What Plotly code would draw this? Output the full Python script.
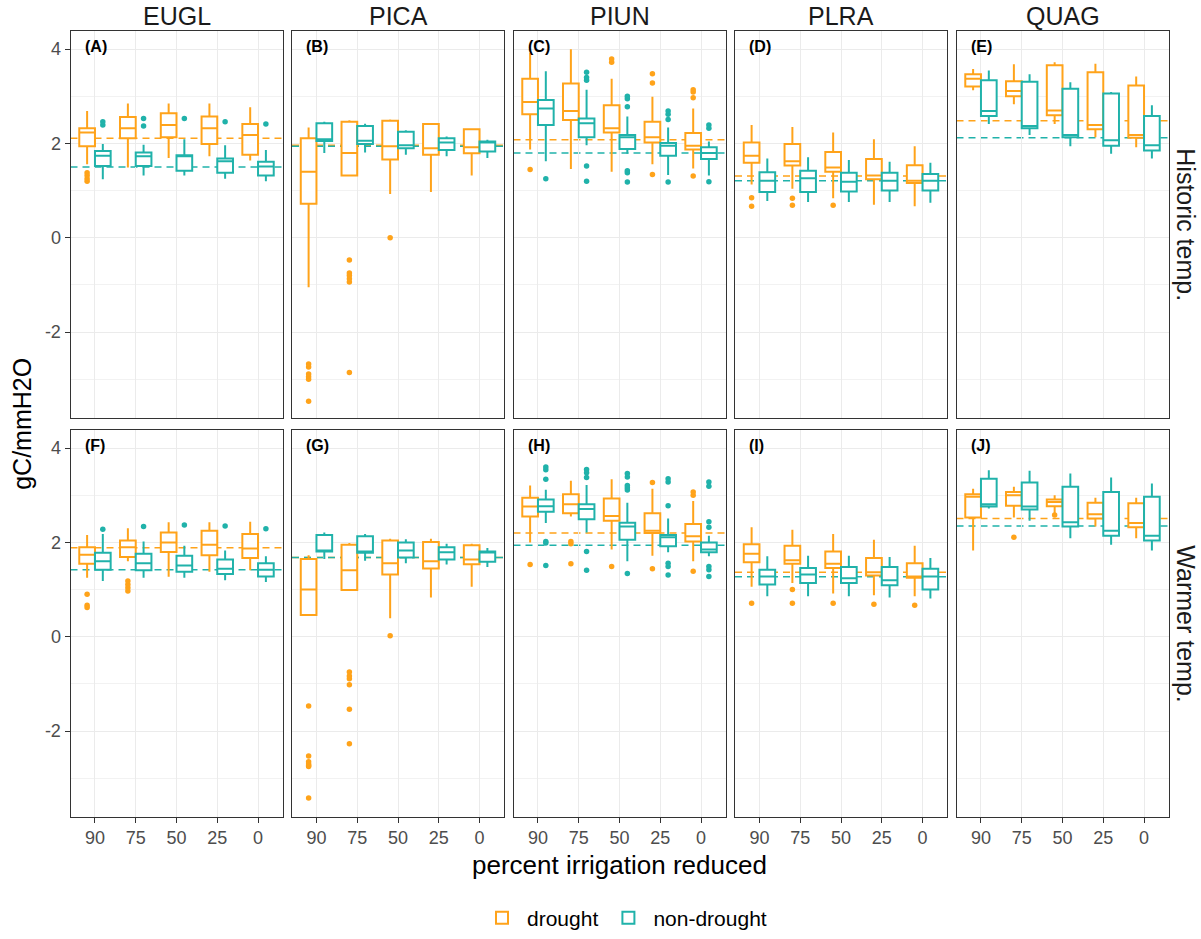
import plotly.graph_objects as go

# ---------------- data ----------------
species = ["EUGL", "PICA", "PIUN", "PLRA", "QUAG"]
temps = ["Historic temp.", "Warmer temp."]
categories = ["90", "75", "50", "25", "0"]
groups = ["drought", "non-drought"]
panel_tags = [["(A)", "(B)", "(C)", "(D)", "(E)"],
              ["(F)", "(G)", "(H)", "(I)", "(J)"]]
y_tickvals = [-2, 0, 2, 4]
y_ticktext = ["-2", "0", "2", "4"]

# Historic temp., drought  (rows = species, columns = categories)
hist_d_low = [[1.56, 1.49, 1.69, 1.73, 1.64], [-1.05, 1.32, 0.93, 0.97, 1.32],
              [1.87, 1.46, 1.40, 1.56, 1.47], [1.13, 1.04, 0.84, 0.70, 0.67],
              [3.13, 2.83, 2.41, 2.13, 1.92]]
hist_d_q1 = [[1.94, 2.11, 2.13, 1.99, 1.76], [0.72, 1.32, 1.66, 1.76, 1.79],
             [2.62, 2.50, 2.23, 2.02, 1.87], [1.59, 1.53, 1.40, 1.24, 1.16],
             [3.21, 3.00, 2.60, 2.30, 2.12]]
hist_d_med = [[2.23, 2.32, 2.39, 2.32, 2.18], [1.40, 1.80, 1.94, 1.90, 1.92],
              [2.88, 2.69, 2.32, 2.13, 1.95], [1.74, 1.62, 1.49, 1.32, 1.21],
              [3.37, 3.11, 2.70, 2.39, 2.18]]
hist_d_q3 = [[2.32, 2.56, 2.64, 2.57, 2.41], [2.11, 2.46, 2.48, 2.41, 2.30],
             [3.37, 3.27, 2.81, 2.46, 2.22], [2.02, 1.99, 1.82, 1.67, 1.54],
             [3.47, 3.32, 3.66, 3.51, 3.23]]
hist_d_high = [[2.69, 2.85, 2.85, 2.85, 2.77], [2.34, 2.49, 2.51, 2.43, 2.30],
               [3.92, 4.00, 3.37, 2.99, 2.74], [2.39, 2.35, 2.23, 2.09, 1.94],
               [3.58, 3.68, 3.72, 3.69, 3.42]]
hist_d_out = [[[1.38, 1.32, 1.25, 1.20], [], [], [], []],
              [[-2.68, -2.74, -2.89, -2.95, -3.00, -3.47],
               [-0.47, -0.75, -0.80, -0.87, -0.94, -2.86], [0.0], [], []],
              [[1.45], [], [3.79, 3.72], [3.48, 3.28, 1.34], [3.14, 3.09, 2.97, 1.31]],
              [[0.85, 0.67], [0.84, 0.69], [0.69], [], []],
              [[], [], [], [], []]]
hist_d_ref = [2.11, 1.96, 2.08, 1.31, 2.48]

# Historic temp., non-drought
hist_n_low = [[1.24, 1.32, 1.32, 1.25, 1.20], [1.80, 1.81, 1.76, 1.73, 1.69],
              [1.62, 1.96, 1.78, 1.33, 1.32], [0.78, 0.76, 0.76, 0.76, 0.74],
              [2.41, 2.18, 1.94, 1.78, 1.68]]
hist_n_q1 = [[1.52, 1.52, 1.42, 1.38, 1.32], [2.05, 1.99, 1.90, 1.86, 1.83],
             [2.39, 2.13, 1.88, 1.74, 1.67], [0.97, 0.97, 0.98, 1.00, 1.00],
             [2.58, 2.32, 2.13, 1.95, 1.85]]
hist_n_med = [[1.74, 1.73, 1.73, 1.62, 1.51], [2.09, 2.06, 1.96, 2.02, 2.02],
              [2.74, 2.43, 2.13, 1.95, 1.80], [1.21, 1.26, 1.19, 1.21, 1.21],
              [2.69, 2.37, 2.18, 2.07, 1.96]]
hist_n_q3 = [[1.84, 1.81, 1.75, 1.68, 1.61], [2.43, 2.37, 2.25, 2.11, 2.04],
             [2.92, 2.53, 2.18, 2.01, 1.92], [1.39, 1.42, 1.38, 1.38, 1.35],
             [3.34, 3.31, 3.16, 3.06, 2.58]]
hist_n_high = [[1.99, 1.97, 2.09, 1.96, 1.86], [2.46, 2.42, 2.28, 2.15, 2.08],
               [3.53, 3.14, 2.57, 2.34, 2.04], [1.68, 1.71, 1.65, 1.61, 1.59],
               [3.55, 3.47, 3.30, 3.09, 2.81]]
hist_n_out = [[[2.46, 2.39], [2.53, 2.37], [2.53], [2.46], [2.41]],
              [[], [], [], [], []],
              [[1.25], [3.51, 3.40, 3.34, 1.52, 1.20], [3.00, 2.95, 2.78, 1.42, 1.38, 1.18],
               [2.69, 2.62, 2.51, 1.18], [2.39, 2.32, 1.19]],
              [[], [], [], [], []],
              [[], [], [], [], []]]
hist_n_ref = [1.50, 1.94, 1.80, 1.21, 2.12]

# Warmer temp., drought
warm_d_low = [[1.25, 1.60, 1.27, 1.38, 1.41], [0.46, 0.99, 0.39, 0.83, 1.06],
              [2.00, 2.55, 1.85, 1.72, 1.60], [1.06, 1.14, 0.92, 0.88, 0.86],
              [1.83, 2.53, 2.62, 2.34, 2.09]]
warm_d_q1 = [[1.55, 1.69, 1.80, 1.73, 1.67], [0.46, 0.99, 1.32, 1.45, 1.54],
             [2.55, 2.62, 2.46, 2.20, 2.02], [1.58, 1.55, 1.46, 1.30, 1.25],
             [2.53, 2.78, 2.77, 2.51, 2.32]]
warm_d_med = [[1.74, 1.90, 2.00, 1.95, 1.87], [1.00, 1.41, 1.56, 1.60, 1.64],
              [2.76, 2.81, 2.56, 2.25, 2.13], [1.76, 1.62, 1.55, 1.37, 1.28],
              [2.97, 3.00, 2.86, 2.60, 2.41]]
warm_d_q3 = [[1.90, 2.04, 2.21, 2.25, 2.18], [1.65, 1.95, 2.04, 2.01, 1.94],
             [2.95, 3.02, 2.93, 2.62, 2.39], [1.96, 1.93, 1.81, 1.67, 1.56],
             [3.02, 3.07, 2.91, 2.84, 2.83]]
warm_d_high = [[2.16, 2.30, 2.43, 2.43, 2.44], [1.73, 1.99, 2.08, 2.08, 1.97],
               [3.21, 3.31, 3.34, 3.14, 2.88], [2.32, 2.27, 2.18, 2.06, 1.93],
               [3.14, 3.18, 3.00, 2.95, 2.95]]
warm_d_out = [[[0.90, 0.67, 0.62], [1.18, 1.11, 1.04, 0.97], [], [], []],
              [[-1.47, -2.53, -2.65, -2.70, -2.73, -2.75, -3.42],
               [-0.75, -0.83, -0.89, -1.02, -1.54, -2.27], [0.02], [], []],
              [[1.53], [2.02, 1.97, 1.55], [1.49], [3.27, 1.44], [3.07, 3.00, 1.39]],
              [[0.71], [1.00, 0.71], [0.71], [0.69], [0.67]],
              [[], [2.11], [2.58], [], []]]
warm_d_ref = [1.89, 1.68, 2.20, 1.37, 2.51]

# Warmer temp., non-drought
warm_n_low = [[1.18, 1.25, 1.25, 1.20, 1.16], [1.65, 1.61, 1.56, 1.53, 1.48],
              [2.41, 2.21, 1.60, 1.79, 1.71], [0.86, 0.86, 0.86, 0.83, 0.81],
              [2.72, 2.46, 2.09, 1.95, 1.83]]
warm_n_q1 = [[1.42, 1.41, 1.38, 1.33, 1.28], [1.81, 1.78, 1.68, 1.64, 1.59],
             [2.65, 2.49, 2.06, 1.92, 1.79], [1.11, 1.14, 1.14, 1.09, 1.00],
             [2.76, 2.70, 2.34, 2.14, 2.04]]
warm_n_med = [[1.60, 1.56, 1.51, 1.44, 1.42], [1.83, 1.81, 1.83, 1.79, 1.79],
              [2.77, 2.71, 2.34, 2.11, 1.85], [1.28, 1.32, 1.24, 1.20, 1.28],
              [2.81, 2.76, 2.43, 2.25, 2.14]]
warm_n_q3 = [[1.78, 1.76, 1.72, 1.64, 1.56], [2.16, 2.13, 2.00, 1.90, 1.81],
             [2.91, 2.81, 2.42, 2.16, 2.00], [1.42, 1.46, 1.48, 1.48, 1.44],
             [3.35, 3.27, 3.18, 3.07, 2.97]]
warm_n_high = [[2.18, 2.02, 1.93, 1.83, 1.71], [2.21, 2.18, 2.07, 1.97, 1.88],
               [3.12, 3.22, 2.84, 2.51, 2.14], [1.71, 1.72, 1.72, 1.69, 1.67],
               [3.53, 3.52, 3.46, 3.38, 3.25]]
warm_n_out = [[[2.28], [2.34], [2.37], [2.35], [2.29]],
              [[], [], [], [], []],
              [[3.60, 3.54, 3.34, 2.02, 1.99, 1.51], [3.55, 3.48, 3.38, 1.81, 1.41],
               [3.46, 3.39, 3.21, 3.16, 3.11, 1.34], [3.35, 3.28, 2.78, 1.56, 1.49, 1.31],
               [3.28, 3.19, 2.44, 2.32, 1.49, 1.42, 1.28]],
              [[], [], [], [], []],
              [[], [], [], [], []]]
warm_n_ref = [1.42, 1.68, 1.94, 1.27, 2.35]

# ---------------- assembly ----------------
series = {
    (0, 0): (hist_d_low, hist_d_q1, hist_d_med, hist_d_q3, hist_d_high, hist_d_out, hist_d_ref),
    (0, 1): (hist_n_low, hist_n_q1, hist_n_med, hist_n_q3, hist_n_high, hist_n_out, hist_n_ref),
    (1, 0): (warm_d_low, warm_d_q1, warm_d_med, warm_d_q3, warm_d_high, warm_d_out, warm_d_ref),
    (1, 1): (warm_n_low, warm_n_q1, warm_n_med, warm_n_q3, warm_n_high, warm_n_out, warm_n_ref),
}
colors = ["#FFA31A", "#20B2AA"]

W, H = 1201, 939
col_left = [70.5, 292.0, 513.5, 735.0, 956.5]
panel_w = 212.0
row_top = [31.0, 433.0]
panel_h = 390.0
FONT = "Liberation Sans, Arial, sans-serif"

fig = go.Figure()
layout = {}
shapes = []
annotations = []

for r in range(2):
    for c in range(5):
        idx = r * 5 + c + 1
        sfx = "" if idx == 1 else str(idx)
        xname, yname = "x" + sfx, "y" + sfx
        for g in range(2):
            low, q1, med, q3, high, outl, ref = series[(r, g)]
            pts = outl[c]
            has_pts = any(len(p) > 0 for p in pts)
            # boxes with sample points first (categoryarray keeps display order)
            order = [i for i in range(5) if pts[i]] + [i for i in range(5) if not pts[i]]
            pick = lambda arr: [arr[i] for i in order]
            box_kw = (dict(y=pick(pts), boxpoints="all", jitter=0, pointpos=0)
                      if has_pts else dict(boxpoints=False))
            fig.add_trace(go.Box(
                x=pick(categories),
                q1=pick(q1[c]), median=pick(med[c]), q3=pick(q3[c]),
                lowerfence=pick(low[c]), upperfence=pick(high[c]),
                orientation="v",
                name=groups[g], legendgroup=groups[g], showlegend=(idx == 1),
                offsetgroup=groups[g],
                line=dict(color=colors[g], width=2),
                fillcolor="white", whiskerwidth=0,
                marker=dict(color=colors[g], size=5.5, line=dict(width=0)),
                xaxis=xname, yaxis=yname, hoverinfo="skip",
                **box_kw,
            ))
            shapes.append(dict(
                type="line", xref=xname + " domain", yref=yname,
                x0=0, x1=1, y0=ref[c], y1=ref[c], layer="below",
                line=dict(color=colors[g], width=1.5, dash="7px,5px"),
            ))
        x0 = col_left[c] / W
        x1 = (col_left[c] + panel_w) / W
        y1 = 1 - row_top[r] / H
        y0 = 1 - (row_top[r] + panel_h) / H
        layout["xaxis" + sfx] = dict(
            domain=[x0, x1], anchor=yname, type="category",
            categoryorder="array", categoryarray=categories,
            range=[-0.6, 4.6], showgrid=True, gridcolor="#EBEBEB", gridwidth=1.2,
            showline=True, mirror=True, linecolor="#333333", linewidth=1,
            ticks="outside" if r == 1 else "", ticklen=5, tickcolor="#333333",
            showticklabels=(r == 1),
            tickfont=dict(size=18, color="#4D4D4D", family=FONT),
            zeroline=False, fixedrange=True,
        )
        layout["yaxis" + sfx] = dict(
            domain=[y0, y1], anchor=xname, range=[-3.82, 4.39],
            tickvals=y_tickvals, ticktext=y_ticktext,
            showgrid=True, gridcolor="#EBEBEB", gridwidth=1.2,
            minor=dict(dtick=1, tick0=-3, showgrid=True, gridcolor="#F2F2F2", gridwidth=0.7),
            showline=True, mirror=True, linecolor="#333333", linewidth=1,
            ticks="outside" if c == 0 else "", ticklen=5, tickcolor="#333333",
            showticklabels=(c == 0),
            tickfont=dict(size=18, color="#4D4D4D", family=FONT),
            zeroline=False, fixedrange=True,
        )
        annotations.append(dict(
            text="<b>" + panel_tags[r][c] + "</b>", xref="paper", yref="paper",
            x=(col_left[c] + 12) / W, y=1 - (row_top[r] + 16) / H,
            xanchor="left", yanchor="middle", showarrow=False,
            font=dict(size=16, color="black", family=FONT),
        ))

for c in range(5):
    annotations.append(dict(
        text=species[c], xref="paper", yref="paper",
        x=(col_left[c] + panel_w / 2) / W, y=1 - 16 / H,
        xanchor="center", yanchor="middle", showarrow=False,
        font=dict(size=25, color="#1A1A1A", family=FONT),
    ))
for r in range(2):
    annotations.append(dict(
        text=temps[r], xref="paper", yref="paper",
        x=1186 / W, y=1 - (row_top[r] + panel_h / 2) / H,
        xanchor="center", yanchor="middle", showarrow=False, textangle=90,
        font=dict(size=25, color="#1A1A1A", family=FONT),
    ))
annotations.append(dict(
    text="gC/mmH2O", xref="paper", yref="paper", x=22 / W, y=1 - 427 / H,
    xanchor="center", yanchor="middle", showarrow=False, textangle=-90,
    font=dict(size=25, color="black", family=FONT),
))
annotations.append(dict(
    text="percent irrigation reduced", xref="paper", yref="paper",
    x=619 / W, y=1 - 871 / H, xanchor="center", yanchor="middle", showarrow=False,
    font=dict(size=26, color="black", family=FONT),
))

fig.update_layout(
    width=W, height=H, margin=dict(l=0, r=0, t=0, b=0),
    paper_bgcolor="white", plot_bgcolor="white",
    boxmode="group", boxgap=0.23, boxgroupgap=0,
    shapes=shapes, annotations=annotations,
    font=dict(family=FONT),
    legend=dict(orientation="h", x=0.52, xanchor="center", y=1 - 925 / H, yanchor="middle",
                font=dict(size=21, color="black", family=FONT), itemwidth=40),
    **layout,
)

fig.write_html("out.html")
